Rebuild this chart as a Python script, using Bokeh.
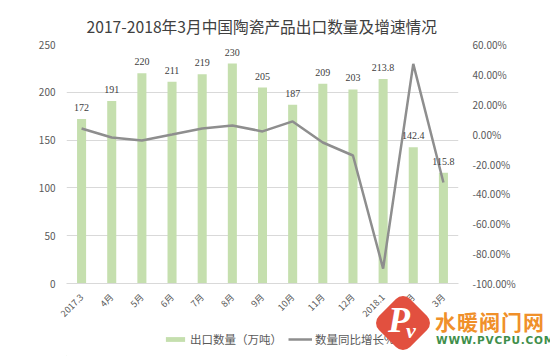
from bokeh.plotting import figure
from bokeh.layouts import column
from bokeh.models import (ColumnDataSource, FactorRange, Range1d, LinearAxis, SingleIntervalTicker,
                          PrintfTickFormatter, Legend, LegendItem, LabelSet, Div)
from bokeh.embed import file_html
from bokeh.resources import INLINE

months = ["2017.3", "4月", "5月", "6月", "7月", "8月", "9月", "10月", "11月", "12月", "2018.1", "2月", "3月"]
volume = [172, 191, 220, 211, 219, 230, 205, 187, 209, 203, 213.8, 142.4, 115.8]
volume_labels = ["172", "191", "220", "211", "219", "230", "205", "187", "209", "203", "213.8", "142.4", "115.8"]
growth = [3.8, -2.3, -4.3, -0.3, 3.8, 5.8, 1.8, 8.5, -5.6, -14.3, -90.0, 47.0, -32.4]
series_names = ["出口数量（万吨）", "数量同比增长%"]

FONT = "Noto Sans CJK SC"
BAR_COLOR = "#c5dfae"
LINE_COLOR = "#8e8e8e"
TXT = "#595959"

src = ColumnDataSource(dict(m=months, v=volume, lab=volume_labels, g=growth))

p = figure(width=550, height=328, x_range=FactorRange(*months), y_range=Range1d(0, 250),
           output_backend="svg", toolbar_location=None,
           min_border_left=66, min_border_right=92, min_border_top=44, min_border_bottom=45)
p.extra_y_ranges = {"pct": Range1d(-100, 60)}

p.title.text = "2017-2018年3月中国陶瓷产品出口数量及增速情况"
p.title.align = "left"
p.title.offset = 20
p.title.standoff = 10
p.title.vertical_align = "top"
p.title.text_font = FONT
p.title.text_font_size = "15.7px"
p.title.text_font_style = "normal"
p.title.text_color = "#404040"

p.outline_line_color = None
p.background_fill_color = "white"
p.border_fill_color = "white"

bars = p.vbar(x="m", top="v", width=0.3, source=src, fill_color=BAR_COLOR, line_color=None)
line = p.line(x="m", y="g", source=src, y_range_name="pct", line_color=LINE_COLOR, line_width=2.5)

labels = LabelSet(x="m", y="v", text="lab", source=src, text_align="center", text_baseline="bottom",
                  y_offset=8, text_font=FONT, text_font_size="10px", text_color="#404040")
p.add_layout(labels)

ax = p.yaxis[0]
ax.ticker = SingleIntervalTicker(interval=50)
ax.axis_line_color = None
ax.major_tick_line_color = None
ax.minor_tick_line_color = None
ax.major_label_text_font = FONT
ax.major_label_text_font_size = "10px"
ax.major_label_text_color = TXT

rax = LinearAxis(y_range_name="pct", ticker=SingleIntervalTicker(interval=20),
                 formatter=PrintfTickFormatter(format="%.2f%%"))
rax.axis_line_color = None
rax.major_tick_line_color = None
rax.minor_tick_line_color = None
rax.major_label_text_font = FONT
rax.major_label_text_font_size = "10px"
rax.major_label_text_color = TXT
rax.major_label_standoff = 8
p.add_layout(rax, "right")

xa = p.xaxis[0]
xa.major_label_orientation = 0.785
xa.axis_line_color = "#d9d9d9"
xa.major_tick_line_color = None
xa.minor_tick_line_color = None
xa.major_label_text_font = FONT
xa.major_label_text_font_size = "9px"
xa.major_label_text_color = TXT
xa.major_label_standoff = 6

p.xgrid.grid_line_color = None
p.ygrid.grid_line_color = "#d9d9d9"
p.ygrid.ticker = SingleIntervalTicker(interval=50)

# legend strip
q = figure(width=550, height=28, x_range=Range1d(0, 550), y_range=Range1d(0, 28),
           output_backend="svg", toolbar_location=None, x_axis_location=None, y_axis_location=None,
           min_border_left=0, min_border_right=0, min_border_top=0, min_border_bottom=0)
q.grid.grid_line_color = None
q.outline_line_color = None
q.background_fill_color = "white"
q.border_fill_color = "white"

bar_proxy = q.vbar(x=[-50], top=[1], width=1, fill_color=BAR_COLOR, line_color=None)
line_proxy = q.line(x=[-60, -50], y=[1, 1], line_color=LINE_COLOR, line_width=2.5)

legend = Legend(items=[LegendItem(label=series_names[0], renderers=[bar_proxy]),
                       LegendItem(label=series_names[1], renderers=[line_proxy])],
                orientation="horizontal", location=(97, 9), border_line_color=None,
                background_fill_alpha=0, label_standoff=3,
                label_text_font=FONT, label_text_font_size="11.5px", label_text_color=TXT,
                glyph_width=24, glyph_height=6, spacing=6, padding=2, margin=0)
q.add_layout(legend)

# watermark overlay
wm_html = (
    '<div style="position:relative;width:175px;height:60px;z-index:10;">'
    '<div style="position:absolute;left:6px;top:5px;width:44px;height:44px;background:#e2503f;'
    'border-radius:10px;transform:rotate(45deg);"></div>'
    '<div style="position:absolute;left:13px;top:6px;font:italic bold 36px \'Liberation Serif\';'
    'line-height:1;color:white;">P</div>'
    '<div style="position:absolute;left:31px;top:24px;font:italic bold 22px \'Liberation Serif\';'
    'line-height:1;color:white;">v</div>'
    '<div style="position:absolute;left:60px;top:15px;font:bold 21px \'Noto Sans CJK SC\';'
    'line-height:1;color:#f0902a;letter-spacing:1px;white-space:nowrap;">水暖阀门网</div>'
    '<div style="position:absolute;left:61px;top:39px;font:bold 10.5px \'DejaVu Sans\';'
    'line-height:1;color:#3f8f4b;letter-spacing:0.8px;white-space:nowrap;">WWW.PVCPU.COM</div>'
    '</div>'
)
wm = Div(text=wm_html, width=175, height=60, margin=(-60, 0, 0, 375),
         styles={"position": "relative", "z-index": "10"})

open("out.html", "w").write(file_html(column(p, q, wm, spacing=0), INLINE))
